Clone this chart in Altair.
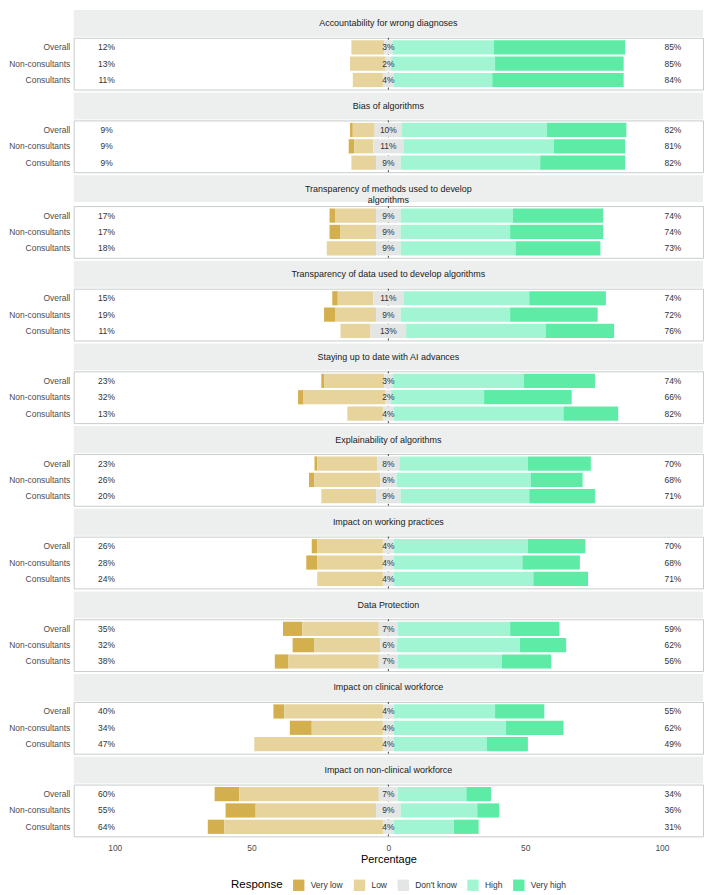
import altair as alt
import pandas as pd

topics = [
    "Accountability for wrong diagnoses",
    "Bias of algorithms",
    "Transparency of methods used to develop\nalgorithms",
    "Transparency of data used to develop algorithms",
    "Staying up to date with AI advances",
    "Explainability of algorithms",
    "Impact on working practices",
    "Data Protection",
    "Impact on clinical workforce",
    "Impact on non-clinical workforce",
]
groups = ["Overall", "Non-consultants", "Consultants"]
responses = ["Very low", "Low", "Don't know", "High", "Very high"]
colors = ["#D4AF4E", "#E6D49C", "#E3E6E5", "#A2F5D3", "#5DEBA6"]

# percentages per topic, per group (Overall, Non-consultants, Consultants)
very_low = [[0, 0, 0], [1, 2, 0], [2, 4, 0], [2, 4, 0], [1, 2, 0],
            [1, 2, 0], [2, 4, 0], [7, 8, 5], [4, 8, 0], [9, 11, 6]]
low = [[12, 13, 11], [8, 7, 9], [15, 13, 18], [13, 15, 11], [22, 30, 13],
       [22, 24, 20], [24, 24, 24], [28, 24, 33], [36, 26, 47], [51, 44, 58]]
dont_know = [[3, 2, 4], [10, 11, 9], [9, 9, 9], [11, 9, 13], [3, 2, 4],
             [8, 6, 9], [4, 4, 4], [7, 6, 7], [4, 4, 4], [7, 9, 4]]
high = [[37, 38, 36], [53, 55, 51], [41, 40, 42], [46, 40, 51], [48, 34, 62],
        [47, 49, 47], [49, 47, 51], [41, 45, 38], [37, 41, 34], [25, 28, 22]]
very_high = [[48, 47, 48], [29, 26, 31], [33, 34, 31], [28, 32, 25], [26, 32, 20],
             [23, 19, 24], [21, 21, 20], [18, 17, 18], [18, 21, 15], [9, 8, 9]]

W = 632      # plot width
SH = 27      # strip height
PH = 52      # panel height
FONT = "Liberation Sans"

xscale = alt.Scale(domain=[-115, 115], nice=False, zero=False)
yscale = alt.Scale(domain=groups, paddingInner=0.13, paddingOuter=0.15)
cscale = alt.Scale(domain=responses, range=colors)

legend = alt.Legend(
    title="Response", orient="none", legendX=158, legendY=873,
    direction="horizontal", titleOrient="left", symbolType="square",
    symbolSize=130, symbolStrokeWidth=0, labelFontSize=8.5, titleFontSize=11.5,
    titleFontWeight="normal", labelColor="#333333", titleColor="#000000",
    columnPadding=10, labelOffset=6, titlePadding=10, labelFont=FONT, titleFont=FONT,
)


def segments(t):
    rows = []
    labs = []
    for gi, g in enumerate(groups):
        vl, lo, dk, hi, vh = (very_low[t][gi], low[t][gi], dont_know[t][gi],
                              high[t][gi], very_high[t][gi])
        h = dk / 2
        segs = [
            ("Very low", -h - lo - vl, -h - lo),
            ("Low", -h - lo, -h),
            ("Don't know", -h, h),
            ("High", h, h + hi),
            ("Very high", h + hi, h + hi + vh),
        ]
        for r, a, b in segs:
            if b - a > 0:
                rows.append({"group": g, "resp": r, "x0": a, "x1": b,
                             "order": responses.index(r)})
        labs.append({"group": g, "neg": f"{vl + lo}%", "dk": f"{dk}%",
                     "pos": f"{hi + vh}%"})
    return pd.DataFrame(rows), pd.DataFrame(labs)


def panel(t, last):
    bars, labs = segments(t)
    if last:
        xaxis = alt.Axis(values=[-100, -50, 0, 50, 100], labelExpr="abs(datum.value)",
                         title="Percentage", ticks=False, domain=False, grid=False,
                         labelFontSize=8.5, labelColor="#4D4D4D", labelPadding=7,
                         titleFontSize=11, titleFontWeight="normal", titleColor="#000000",
                         titlePadding=2, labelFont=FONT, titleFont=FONT)
    else:
        xaxis = None
    yaxis = alt.Axis(title=None, ticks=False, domain=False, grid=False,
                     labelFontSize=8.5, labelColor="#4D4D4D", labelPadding=4,
                     minExtent=64, maxExtent=64, labelFont=FONT)
    Y = alt.Y("group:N", scale=yscale, axis=yaxis, sort=groups)

    rule = alt.Chart(pd.DataFrame({"z": [0]})).mark_rule(
        color="#444444", strokeDash=[2, 3], strokeWidth=1
    ).encode(x=alt.X("z:Q", scale=xscale, axis=xaxis))

    bar = alt.Chart(bars).mark_bar().encode(
        x=alt.X("x0:Q", scale=xscale, axis=xaxis),
        x2="x1:Q",
        y=Y,
        color=alt.Color("resp:N", scale=cscale, legend=legend, sort=responses),
        order="order:Q",
    )
    tprops = dict(fontSize=8.5, color="#333333", font=FONT)
    tl = alt.Chart(labs).mark_text(**tprops).encode(
        x=alt.X(datum=-103, scale=xscale, axis=xaxis), y=Y, text="neg:N")
    tc = alt.Chart(labs).mark_text(**tprops).encode(
        x=alt.X(datum=0, scale=xscale, axis=xaxis), y=Y, text="dk:N")
    tr = alt.Chart(labs).mark_text(**tprops).encode(
        x=alt.X(datum=104, scale=xscale, axis=xaxis), y=Y, text="pos:N")

    plot = alt.layer(rule, bar, tl, tc, tr).properties(
        width=W, height=PH,
        view=alt.ViewBackground(fill="white", stroke="#C8CCCA", strokeWidth=1),
    )

    strip = alt.Chart(pd.DataFrame({"t": [topics[t]]})).mark_text(
        fontSize=9, color="#1A1A1A", lineBreak="\n", font=FONT
    ).encode(
        x=alt.value(W / 2), y=alt.value(SH / 2), text="t:N"
    ).properties(
        width=W, height=SH,
        view=alt.ViewBackground(fill="#EDEFEE", stroke="#EDEFEE", strokeWidth=0),
    )
    return alt.vconcat(strip, plot, spacing=0)


panels = [panel(i, i == len(topics) - 1) for i in range(len(topics))]

chart = alt.vconcat(*panels, spacing=2).properties(padding=0).configure(font=FONT)

chart.save("out.html", embed_options={"renderer": "svg", "actions": False})
